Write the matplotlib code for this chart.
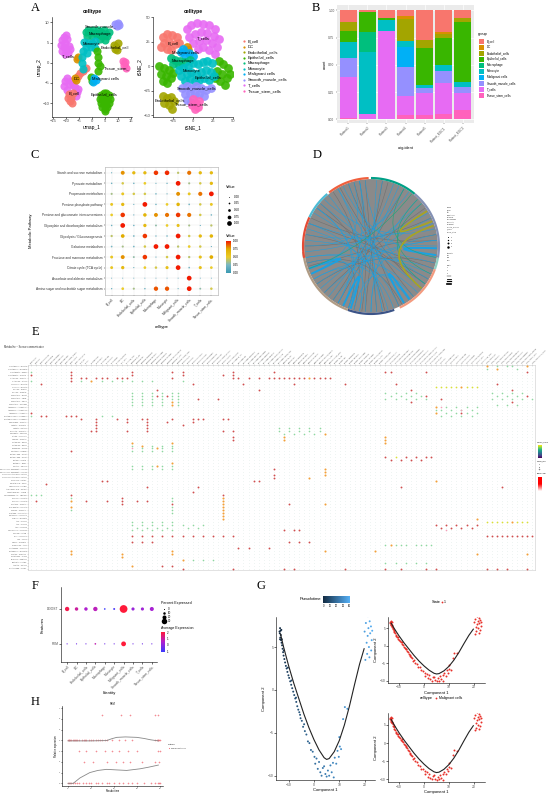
import numpy as np
import matplotlib
matplotlib.use("Agg")
import matplotlib.pyplot as plt
from matplotlib.path import Path
from matplotlib.patches import PathPatch, Circle
from matplotlib.colors import LinearSegmentedColormap

plt.rcParams['font.family'] = ['Liberation Sans', 'DejaVu Sans']

# ---------------------------------------------------------------- data
cell_types = ["B_cell", "DC", "Endothelial_cells", "Epithelial_cells", "Macrophage",
              "Monocyte", "Malignant cells", "Smooth_muscle_cells", "T_cells", "Tissue_stem_cells"]
short_types = ["B_cell", "DC", "Endothelial", "Epithelial", "Macrophage", "Monocyte", "Malignant",
               "Smooth_muscle", "T_cells", "Tissue_stem"]
hue10 = ['#F8766D', '#D89000', '#A3A500', '#39B600', '#00BF7D',
         '#00BFC4', '#00B0F6', '#9590FF', '#E76BF3', '#FF62BC']

# Panel A: UMAP cluster points (x, y)
umap_pts = {
    "T_cells": [(-11.5, 5.5), (-10.8, 6.3), (-10, 6.8), (-9.5, 5.8), (-10.5, 4.8), (-11, 3.8), (-10, 3.2),
                (-9, 4.2), (-9.2, 2.5), (-10.6, 2.2), (-11.6, 2.8), (-8.6, 3.3), (-12, 4.5),
                (-10.5, -4.5), (-9.8, -3.8), (-9, -5.2), (-10.8, -5.8), (-8.2, -4.4), (-7.5, -5.4),
                (-6.5, -6.0), (-5.8, -7.2), (-6.2, -8.2), (-5.5, -6.5), (-9.6, -6.8)],
    "B_cell": [(-8.8, -7.8), (-8.2, -8.8), (-7.5, -7.5), (-8.5, -9.5), (-7.8, -10), (-9.2, -8.6),
               (-5.5, -3.3), (-4.5, -2.6), (-3.5, -2.0), (-2.5, -1.4)],
    "DC": [(-6.5, -3.8), (-6.2, -4.2), (-6, 1), (-5.6, 1.4)],
    "Macrophage": [(-2.5, 7.5), (-1.5, 8), (-0.5, 7.6), (0.5, 8), (1.5, 7.4), (2.5, 8.2), (3.5, 7.5),
                   (4.5, 8), (5.5, 7.2), (6.5, 7.6), (-2, 6.5), (0, 6.6), (2, 6.8), (4, 6.5), (6, 6.6),
                   (3, 5.8), (5, 5.6)],
    "Monocyte": [(-3, 5.2), (-1.5, 5.0), (0, 4.8), (1.2, 5.4), (-2.5, 4.0), (-0.5, 3.8), (1, 3.6),
                 (-3.5, 3), (-2, 2.5), (-4, 1.5), (-3.8, 0), (-3.5, -1.5)],
    "Endothelial_cells": [(8.5, 4.5), (9.3, 4.0), (10.0, 4.8), (8.8, 3.5), (9.8, 3.2)],
    "Epithelial_cells": [(2, 3), (2.5, 1.5), (2.2, 0), (3, -0.8), (2.5, -2), (-0.5, -3.5), (0, -4.5),
                         (3.5, -8), (4.5, -7.5), (5.5, -7.5), (6.5, -8), (3, -9), (4, -9), (5, -9),
                         (6, -9), (7, -9), (3.5, -10), (4.5, -10.2), (5.5, -10.4), (6.5, -10), (4, -11),
                         (5, -11.5), (6, -11), (5, -12)],
    "Malignant cells": [(0.8, -3.8), (1.5, -4.3), (0.5, -4.8)],
    "Smooth_muscle_cells": [(9, 9.5), (10, 9.8), (9.5, 9), (10.5, 9.3)],
    "Tissue_stem_cells": [(12, 0.5), (12.5, -0.5), (13, -1.2), (12.8, 0.2)],
}
umap_labels = [("Smooth_muscle_", 3.5, 8.9), ("Macrophage", 3.0, 7.1), ("Monocyte", -0.3, 4.7),
               ("Endothelial_cell", 9.0, 3.7), ("T_cells", -9.3, 1.6), ("Tissue_stem_", 9.5, -1.4),
               ("DC", -6.0, -4.1), ("Malignant cells", 5.3, -4.1), ("B_cell", -6.8, -7.6),
               ("Epithelial_cells", 4.7, -8.0)]

tsne_pts = {
    "T_cells": [(-8, 38), (-2, 42), (5, 44), (12, 43), (20, 42), (27, 38), (-5, 30), (3, 33), (10, 35),
                (18, 34), (26, 31), (32, 28), (0, 24), (8, 26), (16, 27), (24, 24), (30, 20), (12, 20),
                (20, 17), (27, 13), (6, 18)],
    "B_cell": [(-38, 30), (-32, 33), (-26, 32), (-20, 30), (-36, 24), (-30, 25), (-23, 23), (-17, 24),
               (-33, 18), (-27, 17), (-40, 20)],
    "DC": [(-8, 20), (-6, 17)],
    "Malignant cells": [(-15, 15), (-10, 12), (-5, 14), (0, 11), (-12, 18)],
    "Macrophage": [(-28, 8), (-22, 6), (-16, 5), (-10, 4), (-4, 6), (-25, 2), (-18, 1)],
    "Epithelial_cells": [(-42, 0), (-36, -2), (-30, -4), (-40, -8), (-34, -10), (-28, -12), (-38, -15),
                         (-32, -17), (-25, -7), (32, 5), (38, 2), (44, -2), (30, -5), (36, -8), (42, -12),
                         (34, -15), (40, -19), (46, -8), (28, -12)],
    "Monocyte": [(-18, -4), (-12, -2), (-6, 0), (0, 3), (6, 2), (12, 4), (18, 5), (24, 3), (-15, -10),
                 (-8, -8), (-2, -6), (4, -8), (10, -6), (16, -4), (22, -6), (-10, -15), (-4, -13),
                 (2, -15), (8, -14), (14, -12), (20, -14), (26, -10)],
    "Smooth_muscle_cells": [(-14, -22), (-8, -20), (-2, -22), (4, -20), (10, -22), (16, -24), (22, -22),
                            (-10, -28), (-4, -27), (2, -28), (8, -28), (14, -30), (-8, -35), (-2, -37)],
    "Endothelial_cells": [(-38, -30), (-33, -33), (-28, -31), (-36, -38), (-30, -40), (-24, -36), (-26, -44)],
    "Tissue_stem_cells": [(0, -34), (4, -38), (6, -42), (2, -44), (-1, -40), (8, -36)],
}
tsne_labels = [("T_cells", 12.5, 28.7), ("B_cell", -25, 23), ("Malignant cells", -10, 13.3),
               ("Macrophage", -12.5, 5), ("Monocyte", -2, -4.4), ("Epithelial_cells", 19, -12),
               ("Smooth_muscle_cells", 4, -23), ("Endothelial_cells", -29, -35),
               ("Tissue_stem_cells", -2, -38.6)]

# Panel B: proportions per sample
samples = ["Patient1", "Patient2", "Patient3", "Patient4", "Patient5", "Patient_EGC1", "Patient_EGC2"]
prop_B_cell = [0.106, 0.015, 0.067, 0.050, 0.273, 0.200, 0.067]
prop_DC = [0.000, 0.000, 0.000, 0.030, 0.000, 0.020, 0.000]
prop_Endothelial = [0.085, 0.000, 0.000, 0.197, 0.076, 0.030, 0.040]
prop_Epithelial = [0.103, 0.180, 0.024, 0.000, 0.333, 0.250, 0.555]
prop_Macrophage = [0.000, 0.190, 0.000, 0.000, 0.000, 0.000, 0.000]
prop_Monocyte = [0.139, 0.570, 0.100, 0.060, 0.030, 0.060, 0.042]
prop_Malignant = [0.000, 0.000, 0.000, 0.185, 0.000, 0.000, 0.000]
prop_Smooth = [0.182, 0.000, 0.000, 0.267, 0.045, 0.106, 0.055]
prop_T_cells = [0.370, 0.045, 0.809, 0.175, 0.203, 0.282, 0.158]
prop_Tissue = [0.015, 0.000, 0.000, 0.036, 0.040, 0.052, 0.085]
b_groups = ["B_cell", "DC", "Endothelial_cells", "Epithelial_cells", "Macrophage", "Monocyte",
            "Malignant cells", "Smooth_muscle_cells", "T_cells", "Tissue_stem_cells"]

# Panel C: metabolic pathway activity
pathways = ["Starch and sucrose metabolism", "Pyruvate metabolism", "Propanoate metabolism",
            "Pentose phosphate pathway", "Pentose and glucuronate interconversions",
            "Glyoxylate and dicarboxylate metabolism", "Glycolysis / Gluconeogenesis",
            "Galactose metabolism", "Fructose and mannose metabolism", "Citrate cycle (TCA cycle)",
            "Ascorbate and aldarate metabolism", "Amino sugar and nucleotide sugar metabolism"]
c_xlabels = ["B_cell", "DC", "Endothelial_cells", "Epithelial_cells", "Macrophage", "Monocyte",
             "Malignant_cells", "Smooth_muscle_cells", "T_cells", "Tissue_stem_cells"]
c_values = [
    [0.10, 0.80, 0.65, 0.65, 0.95, 0.97, 0.40, 0.85, 0.65, 0.65],
    [0.20, 0.45, 0.20, 0.50, 0.10, 0.15, 1.00, 0.35, 0.45, 0.65],
    [0.35, 0.55, 0.45, 0.45, 0.20, 0.10, 0.80, 0.55, 0.85, 1.00],
    [0.55, 0.65, 0.10, 1.00, 0.20, 0.50, 0.70, 0.25, 0.45, 0.55],
    [0.50, 0.95, 0.10, 0.70, 0.80, 0.85, 0.95, 0.85, 0.45, 0.20],
    [0.20, 1.00, 0.20, 0.65, 0.30, 0.50, 0.60, 0.35, 0.10, 0.40],
    [0.40, 0.75, 0.25, 0.95, 0.15, 0.20, 1.00, 0.45, 0.65, 0.70],
    [0.25, 0.35, 0.25, 0.45, 1.00, 1.00, 0.40, 0.50, 0.45, 0.10],
    [0.55, 0.80, 0.30, 0.95, 0.10, 0.45, 1.00, 0.40, 0.60, 0.75],
    [0.55, 0.65, 0.10, 0.50, 0.45, 0.60, 1.00, 0.25, 0.60, 0.50],
    [0.05, 0.05, 0.05, 0.05, 0.05, 0.05, 0.05, 1.00, 0.05, 0.05],
    [0.15, 0.50, 0.35, 0.20, 0.90, 0.90, 0.10, 1.00, 0.30, 0.45],
]
c_legend_vals = [0.00, 0.25, 0.50, 0.75, 1.00]

# Panel D: chord diagram
d_arcs = [(50, 90, '#00A087'), (-10, 50, '#8491B4'), (-20, -10, '#91D1C2'), (-65, -20, '#F39B7F'),
          (-110, -70, '#3C5488'), (-175, -110, '#B09C85'), (155, 190, '#E64B35'),
          (130, 155, '#4DBBD5'), (92, 128, '#F0603E')]
d_chords_grey = [(95, 275), (105, 295), (125, 255), (145, 325), (155, 5), (180, 25), (198, 250),
                 (215, 345), (235, 75), (262, 100), (282, 140), (298, 195), (320, 110), (340, 160),
                 (10, 200), (35, 225), (60, 240), (80, 265), (118, 310), (170, 330)]
d_chords_blue = [(100, 280), (110, 300), (120, 260), (140, 330), (150, 320), (160, 0), (170, 20),
                 (175, 345), (185, 30), (195, 240), (200, 60), (210, 340), (220, 40), (230, 70),
                 (240, 100), (250, 80), (255, 310), (260, 10), (265, 210), (270, 45), (280, 130),
                 (285, 160), (290, 200), (300, 120), (305, 270), (115, 350), (135, 15), (145, 250),
                 (165, 295), (190, 335), (205, 105), (225, 5), (245, 145), (275, 85), (315, 190),
                 (325, 95), (5, 215), (25, 235), (55, 180), (65, 250)]
d_ribbons_blue = [(245, 252), (300, 306), (352, 358), (200, 205)]
d_chords_green = [(45, 335), (40, 325), (60, 350), (52, 200)]
d_chords_olive = [(22, 32), (18, 320)]
d_legend = ["Group", "B_cell", "DC", "Endothelial", "Epithelial", "Macrophage", "Monocyte",
            "Malignant", "Smooth_muscle", "T_cells", "Tissue_stem"]

# Panel E: metabolite-sensor communication dot plot
e_row_labels = ["L-Glutamine ~ SLC1A5", "L-Glutamine ~ SLC38A2", "L-Glutamate ~ GRM7", "L-Glutamate ~ SLC1A3",
                "L-Arginine ~ SLC7A1", "L-Arginine ~ CASR", "L-Leucine ~ SLC7A5", "L-Serine ~ SLC1A4",
                "Glycine ~ GLRA1", "Glycine ~ SLC6A9", "Cholesterol ~ RORA", "Cholesterol ~ LDLR",
                "Cholesterol ~ NPC1", "Cholesterol ~ SCARB1", "Adenosine ~ ADORA2A", "Adenosine ~ ADORA2B",
                "Adenosine ~ ADORA3", "Prostaglandin E2 ~ PTGER2", "Prostaglandin E2 ~ PTGER4",
                "Spermidine ~ SLC3A2", "Lactate ~ SLC16A1", "Lactate ~ HCAR1", "Pyruvate ~ SLC16A7",
                "Succinate ~ SUCNR1", "Citrate ~ SLC13A5", "Taurine ~ SLC6A6", "Histamine ~ HRH1",
                "Histamine ~ HRH2", "Dopamine ~ DRD2", "Serotonin ~ HTR2B", "Retinoic acid ~ RARA",
                "Retinoic acid ~ RXRA", "Retinol ~ STRA6", "Estradiol ~ ESR1", "Cortisol ~ NR3C1",
                "Sphingosine-1-phosphate ~ S1PR1", "Sphingosine-1-phosphate ~ S1PR4",
                "Lysophosphatidic acid ~ LPAR1", "Lysophosphatidic acid ~ LPAR6", "Oleic acid ~ FFAR1",
                "Palmitic acid ~ CD36", "Linoleic acid ~ PPARG", "Arachidonic acid ~ PPARA",
                "Leukotriene B4 ~ LTB4R", "Thromboxane A2 ~ TBXA2R", "Glucose ~ SLC2A1", "Glucose ~ SLC2A3",
                "Fructose ~ SLC2A5", "Myo-inositol ~ SLC5A3", "Choline ~ SLC44A1", "Ornithine ~ SLC25A15",
                "Putrescine ~ SLC22A1", "Uridine ~ SLC29A1", "ATP ~ P2RX7", "ATP ~ P2RY2", "ADP ~ P2RY12",
                "UDP-glucose ~ P2RY14", "Calcium ~ CASR", "Zinc ~ SLC39A4", "Iron ~ TFRC",
                "Heme ~ SLC48A1", "Kynurenine ~ AHR", "Tryptophan ~ SLC7A8", "Methionine ~ SLC43A2",
                "Cystine ~ SLC7A11", "Glutathione ~ GGT1", "Bile acid ~ GPBAR1", "Butyrate ~ FFAR2",
                "Acetate ~ FFAR3", "Nicotinamide ~ NNMT"]
e_red = {2: [8, 20, 28, 30, 40, 48, 70, 71, 78, 98], 3: [0, 8, 20, 30, 38, 40],
         4: [8, 10, 11, 13, 14, 15, 17, 18, 19, 28, 40, 41, 43, 45, 47, 48, 49, 50, 51, 52, 53, 54, 56, 57, 58, 59],
         5: [8], 6: [2, 32, 42, 52, 62, 72, 92], 8: [25, 45, 75, 95], 10: [25, 27, 78, 98], 11: [33, 37, 81],
         12: [75, 95], 16: [0, 85], 17: [2, 3, 7, 8, 9],
         18: [10, 13, 17, 19, 22, 23, 28, 32, 33, 34, 38, 39], 19: [13, 19, 23, 27, 32], 20: [13, 23, 30],
         21: [13, 23], 22: [12, 13, 19, 23, 38, 40], 24: [40], 25: [40], 29: [8],
         31: [70, 74, 76, 78, 79], 32: [71, 73, 75, 77], 35: [48], 37: [48], 38: [48],
         39: [14, 15, 44, 45], 40: [3], 41: [23, 33, 73, 93], 43: [32], 44: [8, 38], 45: [18],
         46: [1, 11, 15, 18, 21, 23], 47: [18, 28, 51], 54: [80, 82, 84, 86, 88], 55: [81, 83, 85, 87],
         56: [50, 52, 53], 58: [20, 22, 24, 26, 28, 30, 32, 34, 36, 38, 40, 90, 91, 92, 93, 94, 95, 96, 97, 98, 99],
         60: [20, 22, 24, 51, 53, 55], 62: [41, 43, 47], 68: [26, 28],
         69: [30, 40, 50, 52, 62, 70, 73, 78, 80, 90, 92, 94, 98]}
e_orange = {0: [90, 98], 1: [92], 4: [55], 5: [12], 7: [85], 12: [28], 13: [28], 14: [80], 16: [80],
            23: [58], 24: [50, 70], 25: [50, 70], 26: [20, 28, 70], 27: [22], 28: [25], 33: [28], 34: [25],
            35: [58], 36: [58], 37: [58], 38: [55], 39: [80], 45: [38], 46: [8, 38], 47: [38, 58],
            48: [8, 38], 49: [38], 50: [38], 51: [38], 52: [38, 88], 53: [95], 61: [71],
            63: [8, 28, 58, 68], 64: [8, 18, 28, 88, 98], 65: [18], 66: [30], 68: [20]}
e_green = {0: [92, 94, 95], 1: [90, 96], 2: [0], 5: [0, 10, 14, 16, 18, 20, 22, 24, 30],
           9: [20, 22, 24, 26, 28, 29, 70, 72, 74, 76, 91, 93, 95, 97],
           10: [20, 22, 24, 26, 28, 29, 71, 73, 75, 77, 92, 94, 96],
           11: [20, 22, 24, 26, 28, 29, 70, 72, 74, 76, 78, 91, 93, 95, 97, 99],
           12: [20, 22, 24, 26, 29], 13: [20, 22, 24, 26, 29, 92, 94, 96], 14: [82, 84, 86, 88],
           15: [80, 81, 83, 85, 87], 16: [82, 84, 86, 88], 17: [0, 14, 16, 81, 83, 85, 87],
           21: [49, 51, 53, 55, 57], 22: [49, 51, 53, 55, 57], 23: [50, 52, 54, 56],
           27: [20, 24, 26, 28], 28: [22, 24, 26, 28], 29: [20, 22, 24, 26, 28],
           34: [20, 22, 24, 26, 28], 35: [20, 22, 24, 26, 28], 44: [0, 1, 2],
           45: [8, 28], 46: [28], 48: [28], 49: [8, 28], 50: [28],
           53: [20, 22, 24, 26, 28], 54: [20, 22, 24, 26, 28, 30, 32, 34], 55: [21, 23, 25, 27, 31, 33],
           56: [20, 22, 24, 26, 28], 61: [70, 72, 73, 74, 76, 77, 78, 79], 66: [32, 34, 36],
           67: [70, 72, 74, 76, 78]}
e_yellow = {7: [80, 81, 82, 83, 84, 86, 87, 88], 31: [72], 53: [90, 91, 92, 93, 94, 96, 97, 98]}
e_pink = {28: [20], 14: [81], 15: [85], 56: [82]}

# Panel F: dot plot of two genes
f_genes = ["PKM", "DDOST"]
f_pct_DDOST = [22, 16, 16, 22, 4, 6, 45, 14, 14, 20]
f_expr_DDOST = [1.8, 1.0, 0.5, 0.7, -1.0, -0.8, 2.0, 0.2, 0.3, 0.4]
f_pct_PKM = [1, 1, 1, 4, 1, 1, 25, 1, 1, 1]
f_expr_PKM = [-0.3, -0.3, -0.3, 0.8, -0.3, -0.3, 2.0, -0.3, -0.3, -0.3]

# Panel G: trajectory (Component 1, Component 2, pseudotime)
g_x = [-13.4, -13.2, -13.5, -13.1, -13.3, -13.0, -12.9, -13.4, -12.8, -12.6, -12.4, -12.2, -12.0, -11.7,
       -11.4, -11.1, -10.8, -10.5, -10.1, -9.8, -9.4, -9.0, -8.6, -8.2, -7.8, -7.4, -7.0, -6.6, -6.2,
       -5.8, -5.3, -4.8, -4.3, -3.6, -3.0, -2.4, -1.8, -1.2, -0.5, 0.2, 0.5, 1.0, 1.5, 2.0, 2.5, 3.0,
       3.5, 4.0, 4.5, 5.0, 5.5, 6.0, 6.5, 7.0, 7.5, 7.8, 8.2, 8.8, 9.3, 9.8, 10.2, 10.7, 10.0, 11.5,
       12.2, 13.2, 20.0, 20.5, 20.8, 21.0, 21.2, 21.5, 21.7, 22.0, 22.2, 22.5, 22.8, 23.0, 21.3, 20.3,
       22.6, 21.9, -12.7, -11.9, -10.3, -8.9, -7.1, -5.5, -3.9, -13.6]
g_y = [7.2, 6.9, 6.6, 6.4, 6.1, 5.8, 7.0, 5.9, 5.5, 5.2, 4.8, 4.4, 4.0, 3.6, 3.2, 2.8, 2.5, 2.1, 1.7,
       1.4, 1.0, 0.6, 0.2, -0.2, -0.6, -1.0, -1.4, -1.9, -2.3, -2.6, -3.3, -3.6, -4.3, -4.8, -5.2,
       -6.0, -6.2, -7.0, -7.2, -7.8, -8.6, -8.0, -9.2, -8.4, -9.6, -10.0, -9.1, -8.9, -9.8, -10.1,
       -9.4, -10.0, -8.8, -9.6, -8.5, -10.2, -7.9, -8.6, -7.1, -7.8, -6.6, -6.9, -5.5, -3.4, -2.0,
       -2.2, 6.8, 7.8, 5.5, 4.2, 6.3, 7.2, 5.0, 8.0, 6.6, 7.4, 5.8, 6.9, 8.6, 3.5, 4.6, 3.8,
       5.9, 4.6, 2.6, 1.1, -0.9, -2.9, -4.0, 6.8]
g_pt = [0, 0.3, 0.5, 0.8, 1, 1.3, 0.2, 1.1, 1.8, 2.2, 2.8, 3.3, 3.8, 4.3, 4.9, 5.4, 5.9, 6.4, 7.0, 7.5,
        8.1, 8.7, 9.3, 9.9, 10.5, 11.1, 11.7, 12.3, 12.9, 13.5, 14.2, 14.9, 15.6, 16.5, 17.3, 18.2,
        19.0, 19.8, 20.6, 21.5, 21.5, 22, 22.5, 23, 23.5, 24, 24.5, 25, 25.5, 26, 26.5, 27, 27.5, 28,
        28.5, 28.5, 29, 29.5, 30, 30.5, 31, 31.5, 31, 32, 32.5, 33, 36, 37, 36.5, 36, 37, 38, 37.5, 39,
        38.5, 40, 39, 41, 40, 35.5, 38, 37, 1.6, 3.5, 6.0, 8.5, 11.5, 13.8, 15.0, 0.1]
g_curve_x = [-13.2, -12, -10, -8, -6, -4, -2, 0, 2, 4, 5, 6, 8, 10, 12, 14, 16, 18, 19.8]
g_curve_y = [6.5, 5.0, 2.8, 0.8, -1.0, -2.8, -4.4, -5.8, -7.0, -7.9, -8.1, -8.0, -7.2, -5.9, -4.1,
             -1.9, 0.6, 3.0, 4.8]

# Panel H: expression along pseudotime
h_x_lvl4 = [0, 0.3, 0.6, 1, 1.5, 2, 2.5, 3, 3.5, 4, 5, 6, 7, 7.5, 8, 9, 10, 11, 12, 13, 14, 15, 16, 17,
            19, 22, 25, 28, 38, 38.5, 39, 39.3, 39.6, 40]
h_x_lvl0 = [0, 0.4, 0.8, 1.2, 2, 3, 4, 5, 6.5, 8, 9, 10, 12, 13, 15, 17, 18, 20, 22, 24, 26, 28, 30, 33,
            36, 38, 39, 39.5, 40]
h_x_lvl3 = [5, 8, 12, 16, 19, 22, 26, 30, 39, 40]
h_x_lvl2 = [7, 11, 17, 21, 24, 27, 32, 38, 39.5]
h_x_lvl6 = [15, 23, 27, 38, 39]
h_curve1_x = [0, 5, 10, 16.8, 19, 21.2, 25, 29.9, 33, 36, 39.3]
h_curve1_y = [3.95, 3.95, 3.95, 3.98, 4.15, 4.28, 4.32, 4.28, 4.18, 4.05, 3.95]
h_curve2_x = [0, 2.3, 5.2, 9.5, 13, 16.8, 21, 25.5, 31.3, 35, 39.3]
h_curve2_y = [0.0, 0.0, 0.5, 1.0, 1.2, 1.3, 1.25, 1.2, 1.35, 1.5, 1.7]

# ---------------------------------------------------------------- layout helpers
W, H = 550, 796
fig = plt.figure(figsize=(5.5, 7.96), dpi=100)


def ax_px(l, t, r, b, **kw):
    return fig.add_axes([l / W, 1 - b / H, (r - l) / W, (b - t) / H], **kw)


def ftxt(x, y, s, **kw):
    fig.text(x / W, 1 - y / H, s, **kw)


def classic(ax, fs=3.0):
    for s in ['top', 'right']:
        ax.spines[s].set_visible(False)
    for s in ['left', 'bottom']:
        ax.spines[s].set_linewidth(0.4)
    ax.tick_params(length=1.2, width=0.4, labelsize=fs, pad=0.6, labelcolor='#4d4d4d')


def gradient(l, t, r, b, cmap, vertical=True):
    a = ax_px(l, t, r, b)
    g = np.linspace(0, 1, 256)
    if vertical:
        a.imshow(g[::-1].reshape(-1, 1), aspect='auto', cmap=cmap)
    else:
        a.imshow(g.reshape(1, -1), aspect='auto', cmap=cmap)
    a.set_xticks([]); a.set_yticks([])
    for s in a.spines.values():
        s.set_visible(False)
    return a


def fig_dot(x, y, ms, color):
    fig.lines.append(matplotlib.lines.Line2D([x / W], [1 - y / H], marker='o', ms=ms, color=color,
                                             mew=0, transform=fig.transFigure))


serif = dict(family=['Liberation Serif', 'DejaVu Serif'], fontsize=9)
for lab, x, y in [("A", 35, 8), ("B", 316, 8), ("C", 35, 155), ("D", 317, 155), ("E", 35, 332),
                  ("F", 35, 586), ("G", 261, 586), ("H", 35, 702)]:
    ftxt(x, y, lab, va='center', ha='center', **serif)

color_of = dict(zip(cell_types, hue10))

# ---------------------------------------------------------------- Panel A
for pts, labels, (l, r), xlab, ylab, xl, yl, xt, yt, sz in [
        (umap_pts, umap_labels, (52, 132), "umap_1", "umap_2", (-15.5, 15.5), (-13.4, 11.3),
         [-15, -10, -5, 0, 5, 10, 15], [-10, -5, 0, 5, 10], 34),
        (tsne_pts, tsne_labels, (153, 233), "tSNE_1", "tSNE_2", (-50, 50), (-52, 50.5),
         [-25, 0, 25, 50], [-50, -25, 0, 25, 50], 40)]:
    ax = ax_px(l, 17, r, 117)
    for ct, p in pts.items():
        p = np.array(p)
        ax.scatter(p[:, 0], p[:, 1], s=sz, color=color_of[ct], lw=0, alpha=0.9)
    for txt, x, y in labels:
        ax.text(x, y, txt, fontsize=3.0, ha='center', va='center')
    ax.set_xlim(*xl); ax.set_ylim(*yl)
    ax.set_xticks(xt); ax.set_yticks(yt)
    classic(ax, 3.0)
    ax.set_xlabel(xlab, fontsize=3.5, labelpad=1)
    ax.set_ylabel(ylab, fontsize=3.5, labelpad=1)
    ax.set_title("celltype", fontsize=3.6, fontweight='bold', pad=3)

for i, ct in enumerate(cell_types):
    y = 41 + 5.55 * i
    fig_dot(244, y, 1.6, hue10[i])
    ftxt(248, y, ct, fontsize=3.0, va='center')

# ---------------------------------------------------------------- Panel B
axb = ax_px(337, 5, 474, 123)
axb.set_facecolor('#EBEBEB')
props = [prop_B_cell, prop_DC, prop_Endothelial, prop_Epithelial, prop_Macrophage, prop_Monocyte,
         prop_Malignant, prop_Smooth, prop_T_cells, prop_Tissue]
xpos = np.arange(1, len(samples) + 1)
bottom = np.zeros(len(samples))
for i in range(len(props) - 1, -1, -1):
    v = np.array(props[i])
    axb.bar(xpos, v, 0.9, bottom=bottom, color=hue10[i], lw=0)
    bottom += v
axb.set_xlim(0.4, 7.6); axb.set_ylim(-0.035, 1.05)
axb.set_yticks([0, 0.25, 0.5, 0.75, 1.0])
axb.set_yticklabels(["0.00", "0.25", "0.50", "0.75", "1.00"])
axb.set_xticks(xpos)
axb.set_xticklabels(samples, rotation=45, ha='right', rotation_mode='anchor')
axb.grid(True, color='white', lw=0.5)
axb.set_axisbelow(True)
for s in axb.spines.values():
    s.set_visible(False)
axb.tick_params(length=1, width=0.3, labelsize=2.3, pad=0.8, labelcolor='#4d4d4d', color='#333333')
axb.set_xlabel("orig.ident", fontsize=2.8, labelpad=2)
axb.set_ylabel("count", fontsize=2.8, labelpad=1)
ftxt(478, 34, "group", fontsize=2.8, va='center')
for i, g in enumerate(b_groups):
    y = 41 + 6.0 * i
    fig.patches.append(matplotlib.patches.Rectangle((479 / W, 1 - (y + 2.5) / H), 5 / W, 5 / H,
                                                    transform=fig.transFigure, color=hue10[i], lw=0))
    ftxt(487, y, g, fontsize=2.2, va='center')

# ---------------------------------------------------------------- Panel C
zissou = LinearSegmentedColormap.from_list("zissou", ["#3B9AB2", "#78B7C5", "#EBCC2A", "#E1AF00", "#F21A00"])
axc = ax_px(105, 167, 218, 295)
cv = np.array(c_values)
nr, nc = cv.shape
xx, yy = np.meshgrid(np.arange(1, nc + 1), np.arange(1, nr + 1))
axc.scatter(xx.ravel(), yy.ravel(), s=(0.5 + 2.9 * cv.ravel()) ** 2, c=cv.ravel(), cmap=zissou,
            vmin=0, vmax=1, lw=0, zorder=3)
axc.set_xlim(0.4, 10.6); axc.set_ylim(12.6, 0.45)
axc.set_xticks(range(1, nc + 1)); axc.set_yticks(range(1, nr + 1))
axc.set_yticklabels(pathways)
axc.set_xticklabels(c_xlabels, rotation=45, ha='right', rotation_mode='anchor')
axc.grid(True, color='#EBEBEB', lw=0.3)
for s in axc.spines.values():
    s.set_color('#BBBBBB'); s.set_linewidth(0.5)
axc.tick_params(length=1, width=0.3, labelsize=2.3, pad=0.8, labelcolor='#333333')
axc.set_xlabel("celltype", fontsize=3.0, labelpad=2)
axc.set_ylabel("Metabolic Pathway", fontsize=3.0, labelpad=2)
ftxt(226, 187, "Value", fontsize=2.8, va='center')
for i, v in enumerate(c_legend_vals):
    y = 196.5 + 6.7 * i
    fig_dot(229, y, 0.5 + 2.9 * v, 'black')
    ftxt(234, y, f"{v:.2f}", fontsize=2.2, va='center')
ftxt(226, 236, "Value", fontsize=2.8, va='center')
gradient(225.5, 241, 230.5, 273, zissou)
for i, v in enumerate([1.00, 0.75, 0.50, 0.25, 0.00]):
    ftxt(233, 241 + 8 * i, f"{v:.2f}", fontsize=2.2, va='center')

# ---------------------------------------------------------------- Panel D
axd = ax_px(300, 175, 442, 317)
axd.set_xlim(-1.045, 1.045); axd.set_ylim(-1.045, 1.045)
axd.set_aspect('equal'); axd.axis('off')
axd.add_patch(Circle((0, 0), 0.985, color='#8A8A8A', lw=0, zorder=1))


def chord(a1, a2, color, lw, z):
    t1, t2 = np.deg2rad(a1), np.deg2rad(a2)
    p1 = (0.97 * np.cos(t1), 0.97 * np.sin(t1))
    p2 = (0.97 * np.cos(t2), 0.97 * np.sin(t2))
    path = Path([p1, (0, 0), p2], [Path.MOVETO, Path.CURVE3, Path.CURVE3])
    axd.add_patch(PathPatch(path, fc='none', ec=color, lw=lw, zorder=z))


for a1, a2 in d_chords_grey:
    chord(a1, a2, '#707070', 0.4, 1.5)
for a1, a2 in d_chords_blue:
    chord(a1, a2, '#1BA1E2', 0.35, 2)
for a1, a2 in d_ribbons_blue:
    chord(a1, a2, '#1BA1E2', 1.4, 2)
for a1, a2 in d_chords_green:
    chord(a1, a2, '#1FA67A', 0.4, 3)
for a1, a2 in d_chords_olive:
    chord(a1, a2, '#A8A520', 1.2, 3)
for a0, a1, col in d_arcs:
    th = np.deg2rad(np.linspace(a0, a1, 60))
    axd.plot(np.cos(th), np.sin(th), color=col, lw=1.6, solid_capstyle='butt', zorder=4)
for i, t in enumerate(d_legend):
    ftxt(447, 208 + 2.4 * i, t, fontsize=1.3, va='center', color='#333333')
for i, ms in enumerate([0.6, 1.0, 1.4, 1.8]):
    fig_dot(448, 237 + 3.2 * i, ms, 'black')
    ftxt(451, 237 + 3.2 * i, str(i + 1), fontsize=1.3, va='center')
for i, t in enumerate(["Strength", "low", "mid", "high", "", "Width", "1", "2", "3"]):
    ftxt(447, 253 + 2.5 * i, t, fontsize=1.3, va='center', color='#333333')
for i, lw_ in enumerate([0.3, 0.6, 0.9, 1.2]):
    fig.lines.append(matplotlib.lines.Line2D([447 / W, 451 / W], [1 - (276 + 2.5 * i) / H] * 2,
                                             lw=lw_, color='black', transform=fig.transFigure))

# ---------------------------------------------------------------- Panel E
axe = ax_px(28, 365, 535, 570)
nrow_e, ncol_e = len(e_row_labels), len(cell_types) ** 2
gx, gy = np.meshgrid(np.arange(ncol_e), np.arange(nrow_e))
axe.scatter(gx.ravel(), gy.ravel(), s=0.12, color='#CFE0DC', lw=0, zorder=1)
for d, col, sz in [(e_green, '#8ED7A0', 1.4), (e_pink, '#F2A0B8', 1.4), (e_yellow, '#D8E03A', 1.6),
                   (e_orange, '#F2A03A', 2.2), (e_red, '#CF4F4F', 1.8)]:
    rr, cc = [], []
    for r, cols in d.items():
        rr += [r] * len(cols); cc += cols
    axe.scatter(cc, rr, s=sz, color=col, lw=0, zorder=3)
axe.set_xlim(-0.5, ncol_e - 0.5); axe.set_ylim(nrow_e - 0.5, -0.5)
axe.xaxis.tick_top()
axe.set_xticks(range(ncol_e))
axe.set_xticklabels([f"{a}~{b}" for a in short_types for b in short_types], rotation=45,
                    ha='left', rotation_mode='anchor', fontsize=1.15, color='#555555')
axe.set_yticks(range(nrow_e))
axe.set_yticklabels(e_row_labels, fontsize=1.3, color='#555555')
axe.tick_params(length=0.5, width=0.2, pad=0.5)
for s in axe.spines.values():
    s.set_color('#CCCCCC'); s.set_linewidth(0.4)
ftxt(4, 347, "Metabolite ~ Sensor communication", fontsize=1.8, va='center', color='#333333')
ftxt(537, 442, "Commu_Score", fontsize=1.3, va='center')
gradient(538, 445, 542, 458, plt.get_cmap('viridis'))
ftxt(537, 461, "Sensor_Exp", fontsize=1.3, va='center')
for i, ms in enumerate([0.5, 0.8, 1.1]):
    fig_dot(539, 464 + 2.6 * i, ms, '#888888')
ftxt(537, 474, "-log10(FDR)", fontsize=1.3, va='center')
gradient(538, 477, 542, 491, LinearSegmentedColormap.from_list("wr", ["#FFFFFF", "#FF0000", "#FF0000"]))

# ---------------------------------------------------------------- Panel F
fcmap = LinearSegmentedColormap.from_list("br", ["#3A3AFF", "#B020D0", "#FF1A3A"])
axf = ax_px(61, 587, 157, 662)
xs = np.arange(1, 11)
for yv, pct, ex in [(1, f_pct_PKM, f_expr_PKM), (2, f_pct_DDOST, f_expr_DDOST)]:
    axf.scatter(xs, [yv] * 10, s=(0.6 + 0.085 * np.array(pct)) ** 2 * 1.6, c=ex, cmap=fcmap,
                vmin=-1, vmax=2, lw=0)
axf.set_xlim(0.35, 10.55); axf.set_ylim(0.48, 2.63)
axf.set_yticks([1, 2]); axf.set_yticklabels(f_genes)
axf.set_xticks(xs)
axf.set_xticklabels(c_xlabels, rotation=45, ha='right', rotation_mode='anchor')
for t in axf.get_xticklabels():
    if t.get_text() == "Malignant_cells":
        t.set_color('red')
classic(axf, 2.3)
axf.set_xlabel("Identity", fontsize=3.0, labelpad=1)
axf.set_ylabel("Features", fontsize=3.0, labelpad=2)
ftxt(161, 603, "Percent Expressed", fontsize=2.6, va='center')
for i, p in enumerate([0, 10, 20, 30]):
    y = 608.5 + 4 * i
    fig_dot(164, y, (0.6 + 0.085 * p) * 1.26, 'black')
    ftxt(168, y, str(p), fontsize=2.1, va='center')
ftxt(161, 628, "Average Expression", fontsize=2.6, va='center')
gradient(161, 632, 165, 652, fcmap)
for i, v in enumerate([2, 1, 0, -1]):
    ftxt(167, 633 + 6.2 * i, str(v), fontsize=2.1, va='center')

# ---------------------------------------------------------------- Panel G
gcmap = LinearSegmentedColormap.from_list("pt", ["#132B43", "#56B1F7"])
axg = ax_px(276, 617, 375, 780)
axg.scatter(g_x, g_y, s=2.0, c=g_pt, cmap=gcmap, vmin=0, vmax=42, lw=0, zorder=2)
axg.plot(g_curve_x, g_curve_y, color='#222222', lw=0.8, zorder=3)
axg.set_xlim(-15, 24.1); axg.set_ylim(-10.5, 8.5)
axg.set_xticks([-10, 0, 10, 20]); axg.set_yticks([-10, -5, 0, 5])
classic(axg, 2.4)
axg.set_xlabel("Component 1", fontsize=3.0, labelpad=1)
axg.set_ylabel("Component 2", fontsize=3.0, labelpad=1)
ftxt(321, 599.5, "Pseudotime", fontsize=3.0, va='center', ha='right')
gradient(323, 596, 350, 603, gcmap, vertical=False)
for i, v in enumerate([0, 10, 20, 30, 40]):
    ftxt(324 + 6.3 * i, 606, str(v), fontsize=1.8, va='center', ha='center')

for (t, b), leg in [((617, 683), [("State", 432), ("1", 444)]),
                    ((713, 782), [("celltype", 420), ("Malignant cells", 439)])]:
    axs = ax_px(388, t, 485, b)
    axs.scatter(g_x, g_y, s=2.0, color='#E8302A', lw=0, zorder=2)
    axs.plot(g_curve_x, g_curve_y, color='#222222', lw=0.8, zorder=3)
    axs.set_xlim(-14.5, 24.5); axs.set_ylim(-10.7, 8.3)
    axs.set_xticks([-10, 0, 10, 20]); axs.set_yticks([-10, -5, 0, 5])
    classic(axs, 2.4)
    axs.set_xlabel("Component 1", fontsize=3.0, labelpad=1)
    axs.set_ylabel("Component 2", fontsize=3.0, labelpad=1)
    ly = t - 15
    ftxt(leg[0][1], ly, leg[0][0], fontsize=2.8, va='center')
    fig_dot(leg[1][1] - 2.5, ly, 1.3, '#E8302A')
    ftxt(leg[1][1], ly, leg[1][0], fontsize=2.5, va='center')

# ---------------------------------------------------------------- Panel H
axh = ax_px(62, 706, 163, 786)
hred = '#F0707A'
for lvl, xsl in [(4, h_x_lvl4), (0, h_x_lvl0), (3, h_x_lvl3), (2, h_x_lvl2), (6.4, h_x_lvl6)]:
    axh.scatter(xsl, [lvl] * len(xsl), s=2.2, marker='+', color=hred, lw=0.4, alpha=0.8)
axh.plot(h_curve1_x, h_curve1_y, color='#888888', lw=0.6)
axh.plot(h_curve2_x, h_curve2_y, color='#888888', lw=0.6)
axh.set_xlim(-2.6, 41.3); axh.set_ylim(-0.25, 7.2)
axh.set_xticks([0, 10, 20, 30, 40]); axh.set_yticks(range(0, 8))
classic(axh, 1.6)
axh.tick_params(pad=0.4, length=0.8)
axh.set_xlabel("Pseudo-time", fontsize=1.8, labelpad=0.5)
axh.set_ylabel("Relative expression", fontsize=1.8, labelpad=1)
axh.set_title("PKM", fontsize=1.8, pad=1)
ftxt(168, 744, "celltype", fontsize=1.6, va='center')
fig_dot(169, 748, 0.8, hred)
ftxt(171, 748, "Malignant cells", fontsize=1.6, va='center', color='#333333')

fig.savefig("out.png", dpi=100)
